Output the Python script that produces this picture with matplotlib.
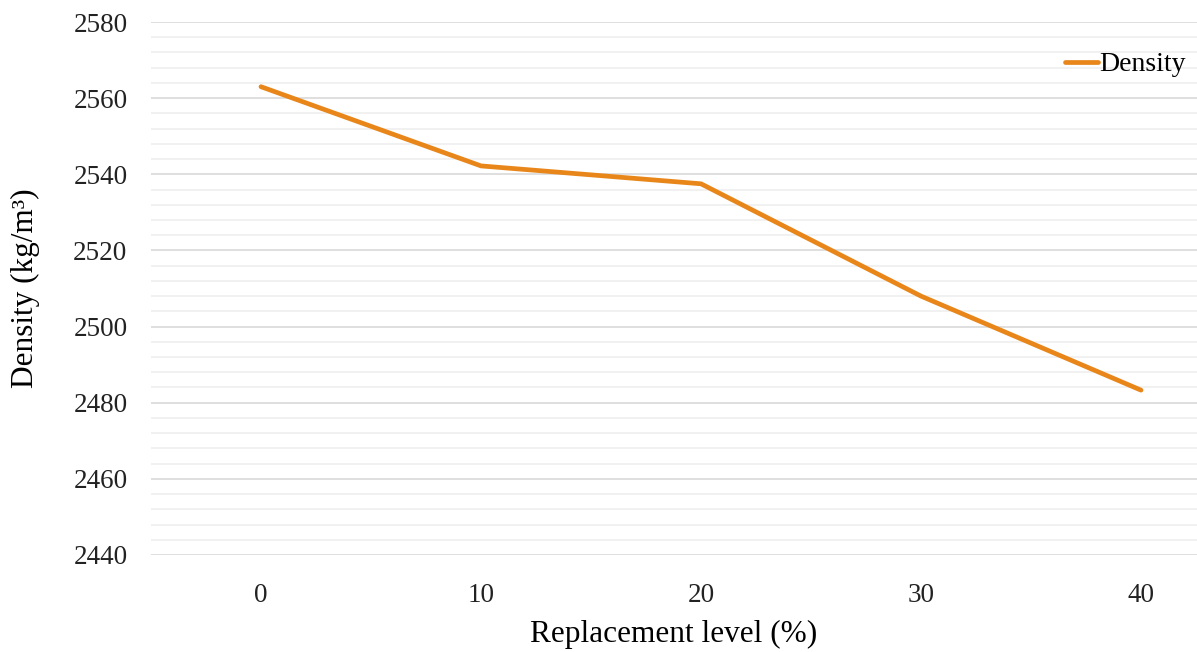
import matplotlib.pyplot as plt
from matplotlib.ticker import MultipleLocator

# data
levels = ["0", "10", "20", "30", "40"]
density = [2563.0, 2542.2, 2537.5, 2508.0, 2483.3]

plt.rcParams['font.family'] = ['Liberation Serif', 'DejaVu Serif']

fig = plt.figure(figsize=(11.97, 6.52), dpi=100)
ax = fig.add_axes([151 / 1197, 1 - 555 / 652, 1 - 151 / 1197, (555 - 22) / 652])

x = list(range(len(levels)))
ax.plot(x, density, color='#E8861A', linewidth=3.4, label='Density', solid_capstyle='round', zorder=3)

ax.set_ylim(2440, 2580)
ax.set_xlim(-0.5, (1197 - 261) / 220)
ax.yaxis.set_major_locator(MultipleLocator(20))
ax.yaxis.set_minor_locator(MultipleLocator(4))
ax.set_xticks(x)
ax.set_xticklabels(levels)

ax.grid(True, which='major', axis='y', color='#D9D9D9', linewidth=1.2)
ax.grid(True, which='minor', axis='y', color='#EFEFEF', linewidth=1.2)
ax.set_axisbelow(True)
for s in ax.spines.values():
    s.set_visible(False)
ax.tick_params(axis='both', which='both', length=0, labelsize=19.5, colors='#222222')
ax.tick_params(axis='y', pad=17)
ax.tick_params(axis='x', pad=20)

ax.set_xlabel('Replacement level (%)', fontsize=22.5, labelpad=9)
ax.set_ylabel('Density (kg/m³)', fontsize=22.5)
ax.yaxis.set_label_coords((40 - 151) / 1046, 0.5)

ax.legend(loc='upper right', bbox_to_anchor=(1200 / 1197, 1 - 38 / 652), bbox_transform=fig.transFigure,
          frameon=False, fontsize=20, handlelength=1.2, handletextpad=0.05, borderpad=0)

fig.savefig('out.png', dpi=100)
